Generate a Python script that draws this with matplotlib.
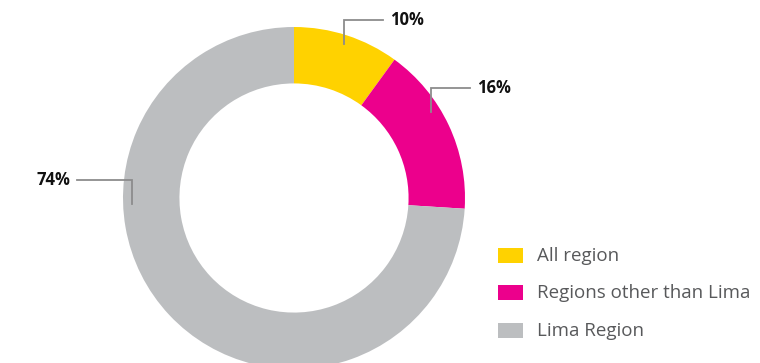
import numpy as np
import matplotlib.pyplot as plt
from matplotlib.patches import Rectangle

plt.rcParams["font.family"] = ["Open Sans", "DejaVu Sans"]

labels = ["All region", "Regions other than Lima", "Lima Region"]
shares = [10, 16, 74]
colors = ["#FFD200", "#EC008C", "#BCBEC0"]

# leader line anchors (degrees, counterclockwise from +x) and side of text
anchor_deg = [72, 32, 182]
side = [1, 1, -1]

W, H = 760, 363
fig = plt.figure(figsize=(W / 100, H / 100), dpi=100)
ax = fig.add_axes([0, 0, 1, 1])

cx, cy, R = 294, H - 198, 171
ax.pie(shares, colors=colors, startangle=90, counterclock=False,
       center=(cx, cy), radius=R, wedgeprops=dict(width=R * 0.33, linewidth=0),
       frame=True)
ax.set_xlim(0, W)
ax.set_ylim(0, H)
ax.axis("off")

line_col = "#8C8C8C"
for val, deg, s in zip(shares, anchor_deg, side):
    ax0 = cx + 162 * np.cos(np.radians(deg))
    ay0 = cy + 162 * np.sin(np.radians(deg))
    ay1 = ay0 + 24
    ax1 = ax0 + s * (39 if s > 0 else 55)
    ax.plot([ax0, ax0, ax1], [ay0, ay1, ay1], color=line_col, lw=1.3,
            solid_joinstyle="miter")
    ax.text(ax1 + s * 7, ay1, f"{val}%", fontsize=12, fontweight="bold",
            color="#111111", ha="left" if s > 0 else "right", va="center")

# legend
for i, (lab, col) in enumerate(zip(labels, colors)):
    y = H - (255 + i * 37.5)
    ax.add_patch(Rectangle((498, y - 7.5), 25, 15, color=col, lw=0))
    ax.text(537, y - 1, lab, fontsize=13.5, color="#58595B", va="center", ha="left")

fig.savefig("out.png", dpi=100)
